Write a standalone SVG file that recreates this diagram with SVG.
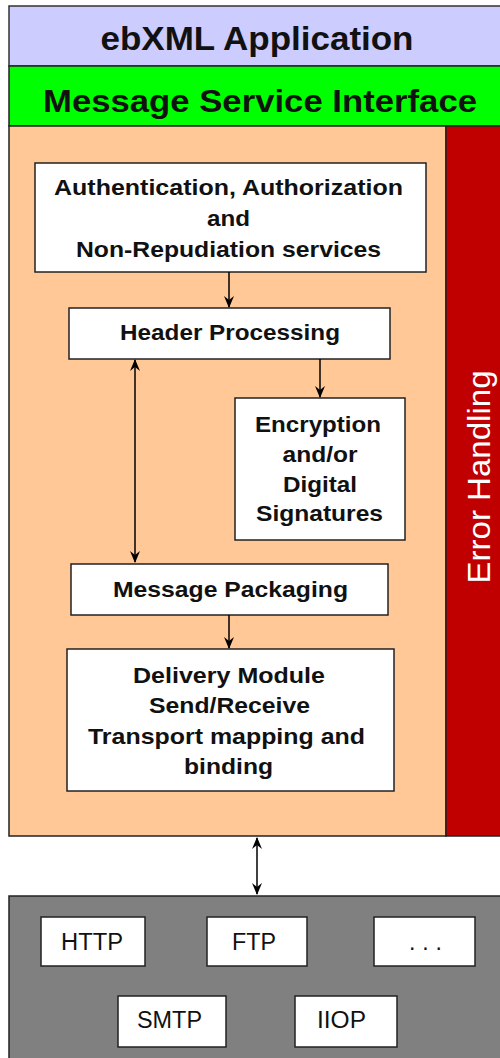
<svg xmlns="http://www.w3.org/2000/svg" width="500" height="1058" viewBox="0 0 500 1058">
<defs>
<style>
.box{fill:#fff;stroke:#222;stroke-width:1.5}
.b{font-family:"Liberation Sans",Arial,sans-serif;font-weight:bold;font-size:22px;fill:#111;text-anchor:middle}
.big{font-family:"Liberation Sans",Arial,sans-serif;font-weight:bold;fill:#111;text-anchor:middle}
.r{font-family:"Liberation Sans",Arial,sans-serif;font-size:23px;fill:#111;text-anchor:middle}
.line{stroke:#000;stroke-width:1.5;fill:none}
</style>
<marker id="ah" markerUnits="userSpaceOnUse" viewBox="0 0 12 12" refX="11" refY="6" markerWidth="12" markerHeight="12" orient="auto-start-reverse">
<path d="M0,1 L12,6 L0,11 L4,6 z" fill="#000"/>
</marker>
</defs>
<rect width="500" height="1058" fill="#fff"/>
<g id="app">
<rect x="9" y="6" width="495" height="60" fill="#ccccff" stroke="#333" stroke-width="1.5"/>
<text x="257" y="50" class="big" style="font-size:34px" textLength="313" lengthAdjust="spacingAndGlyphs">ebXML Application</text>
</g>
<g id="msi">
<rect x="9" y="66" width="495" height="60" fill="#00ff00" stroke="#222" stroke-width="1.5"/>
<text x="260" y="112" class="big" style="font-size:31px" textLength="434" lengthAdjust="spacingAndGlyphs">Message Service Interface</text>
</g>
<g id="core">
<rect x="9" y="126" width="437" height="710" fill="#ffc896" stroke="#222" stroke-width="1.5"/>
</g>
<g id="error">
<rect x="446" y="126" width="58" height="710" fill="#c00000" stroke="#222" stroke-width="1.5"/>
<text transform="translate(490,477) rotate(-90)" font-family="'Liberation Sans',Arial,sans-serif" font-size="32" fill="#fff" text-anchor="middle" textLength="213" lengthAdjust="spacingAndGlyphs">Error Handling</text>
</g>
<g id="auth">
<rect class="box" x="35" y="163" width="391" height="109"/>
<text class="b" x="228.5" y="195" textLength="349" lengthAdjust="spacingAndGlyphs">Authentication, Authorization</text>
<text class="b" x="228.5" y="226" textLength="43" lengthAdjust="spacingAndGlyphs">and</text>
<text class="b" x="228.5" y="257" textLength="305" lengthAdjust="spacingAndGlyphs">Non-Repudiation services</text>
</g>
<g id="header">
<rect class="box" x="69" y="308" width="321" height="51"/>
<text class="b" x="230" y="340" textLength="220" lengthAdjust="spacingAndGlyphs">Header Processing</text>
</g>
<g id="encryption">
<rect class="box" x="235" y="398" width="170" height="142"/>
<text class="b" x="318" y="432" textLength="126" lengthAdjust="spacingAndGlyphs">Encryption</text>
<text class="b" x="320" y="462" textLength="75" lengthAdjust="spacingAndGlyphs">and/or</text>
<text class="b" x="320" y="492" textLength="74" lengthAdjust="spacingAndGlyphs">Digital</text>
<text class="b" x="319.5" y="521" textLength="127" lengthAdjust="spacingAndGlyphs">Signatures</text>
</g>
<g id="packaging">
<rect class="box" x="71" y="564" width="317" height="51"/>
<text class="b" x="230.5" y="597" textLength="235" lengthAdjust="spacingAndGlyphs">Message Packaging</text>
</g>
<g id="delivery">
<rect class="box" x="67" y="649" width="327" height="142"/>
<text class="b" x="229" y="683" textLength="192" lengthAdjust="spacingAndGlyphs">Delivery Module</text>
<text class="b" x="229.5" y="713" textLength="161" lengthAdjust="spacingAndGlyphs">Send/Receive</text>
<text class="b" x="226.5" y="744" textLength="277" lengthAdjust="spacingAndGlyphs">Transport mapping and</text>
<text class="b" x="228.5" y="774" textLength="89" lengthAdjust="spacingAndGlyphs">binding</text>
</g>
<g id="transport">
<rect x="9" y="896" width="495" height="170" fill="#808080" stroke="#222" stroke-width="1.5"/>
</g>
<g id="http">
<rect class="box" x="41" y="917" width="104" height="49"/>
<text class="r" x="92" y="950" textLength="62" lengthAdjust="spacingAndGlyphs">HTTP</text>
</g>
<g id="ftp">
<rect class="box" x="207" y="917" width="100" height="49"/>
<text class="r" x="254" y="950" textLength="44" lengthAdjust="spacingAndGlyphs">FTP</text>
</g>
<g id="more">
<rect class="box" x="374" y="917" width="101" height="49"/>
<text class="r" x="425.5" y="950" fill="#444" textLength="33" lengthAdjust="spacing">. . .</text>
</g>
<g id="smtp">
<rect class="box" x="118" y="996" width="108" height="51"/>
<text class="r" x="169.5" y="1028" textLength="65" lengthAdjust="spacingAndGlyphs">SMTP</text>
</g>
<g id="iiop">
<rect class="box" x="295" y="996" width="102" height="51"/>
<text class="r" x="341.5" y="1028" textLength="49" lengthAdjust="spacingAndGlyphs">IIOP</text>
</g>
<g id="connectors">
<line class="line" x1="229" y1="272" x2="229" y2="307" marker-end="url(#ah)"/>
<line class="line" x1="320" y1="359" x2="320" y2="397" marker-end="url(#ah)"/>
<line class="line" x1="135" y1="360" x2="135" y2="562" marker-start="url(#ah)" marker-end="url(#ah)"/>
<line class="line" x1="229" y1="615" x2="229" y2="648" marker-end="url(#ah)"/>
<line class="line" x1="257" y1="838" x2="257" y2="894" marker-start="url(#ah)" marker-end="url(#ah)"/>
</g>
</svg>
